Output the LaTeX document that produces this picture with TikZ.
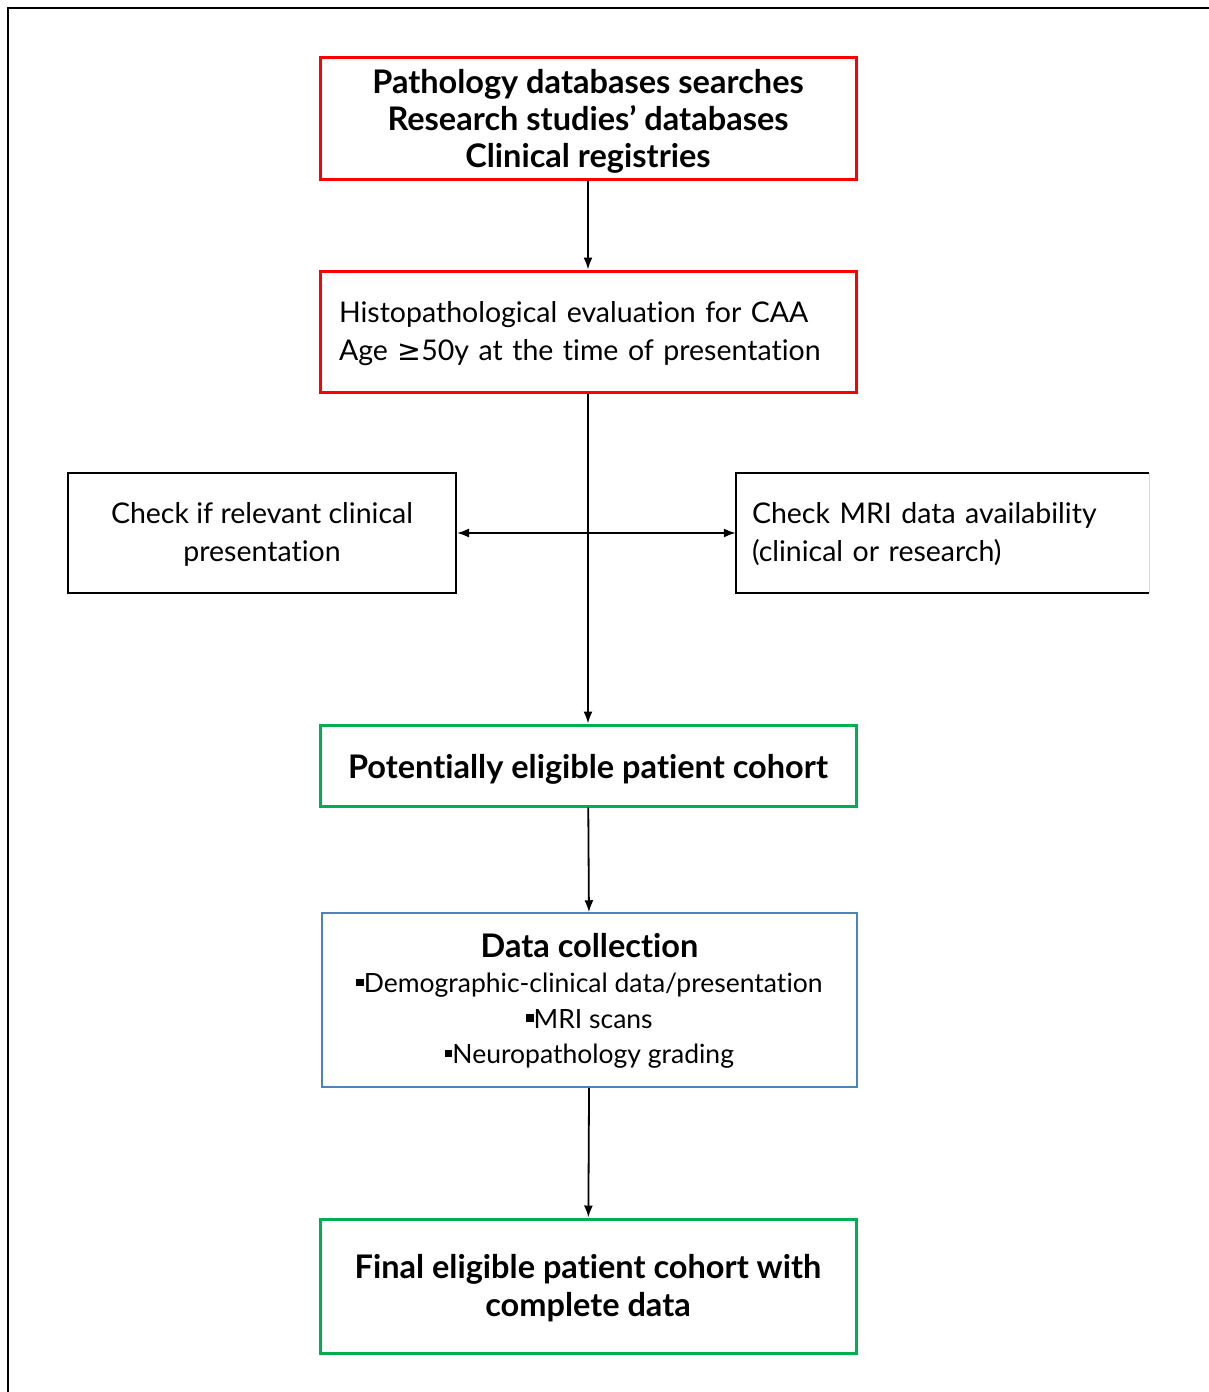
\documentclass[tikz,border=0pt]{standalone}
\usepackage{fontspec}
\setmainfont{Lato}[Ligatures={NoCommon}]
\newfontfamily\symfont{DejaVu Sans}
\usetikzlibrary{arrows.meta}
\definecolor{boxred}{RGB}{255,0,0}
\definecolor{boxgreen}{RGB}{0,176,80}
\definecolor{boxblue}{RGB}{79,129,189}
\newcommand{\sqb}{\raisebox{0.25em}{\rule{0.28em}{0.28em}}}
\newcommand{\bfs}{\fontsize{32.5}{37}\selectfont\bfseries}
\begin{document}
\begin{tikzpicture}[x=1pt,y=-1pt,
  every node/.style={font=\fontsize{28.5}{38}\selectfont, inner sep=0pt},
  box/.style={draw, rectangle, minimum width=#1},
  redbox/.style={box=536, draw=boxred, line width=3pt},
  greenbox/.style={box=536, draw=boxgreen, line width=3pt},
  blackbox/.style={box=388, draw=black, line width=2pt},
  bluebox/.style={box=535, draw=boxblue, line width=1.5pt},
  txt/.style={align=center},
  arr/.style={-{Latex[length=12pt,width=9pt]}, line width=1.8pt},
]
\useasboundingbox (0,0) rectangle (1209,1392);
\draw[line width=2.5pt] (8,1392) -- (8,8) -- (1209,8);

\node[redbox, minimum height=122] (b1) at (588,118) {};
\node[txt, font=\bfs] (b1t) at ([yshift=-3.5pt]b1.center)
  {Pathology databases searches\\Research studies’ databases\\Clinical registries};
\node[redbox, minimum height=121] (b2) at (588,331.5) {};
\node[text width=498, align=left] (b2t) at ([yshift=-2.5pt]b2.center)
  {Histopathological evaluation for CAA\\Age {\symfont ≥}50y at the time of presentation};
\node[blackbox, minimum height=120] (lb) at (262,533) {};
\node[txt] (lbt) at ([yshift=-1.5pt]lb.center)
  {Check if relevant clinical\\presentation};
\node[minimum width=413, minimum height=120] (rb) at (942.5,533) {};
\node[text width=381, align=left] (rbt) at ([yshift=-1.5pt]rb.center)
  {Check MRI data availability\\(clinical or research)};
\draw[line width=2pt] (rb.north east) -- (rb.north west) -- (rb.south west) -- (rb.south east);
\draw[line width=1pt, black!15] (rb.north east) -- (rb.south east);
\node[greenbox, minimum height=81] (g1) at (588,765.5) {};
\node[txt, font=\bfs] (g1t) at ([yshift=-4pt]g1.center)
  {Potentially eligible patient cohort};
\node[bluebox, minimum height=174] (dc) at (589.5,1000) {};
\node[txt, font=\fontsize{26.5}{35.7}\selectfont] (dct) at ([yshift=-1pt]dc.center)
  {{\bfs Data collection}\\[-0.5pt]
   \sqb Demographic-clinical data/presentation\\
   \sqb MRI scans\\
   \sqb Neuropathology grading};
\node[greenbox, minimum height=134] (g2) at (588,1286) {};
\node[txt, font=\fontsize{32.5}{38}\selectfont\bfseries] (g2t) at ([yshift=-2.5pt]g2.center)
  {Final eligible patient cohort with\\complete data};

\coordinate (mid) at (b2.south |- lb.east);
\draw[arr] (b1) -- (b2);
\draw[arr] (b2) -- (g1);
\draw[arr] (mid) -- (lb.east);
\draw[arr] (mid) -- (rb.west);
\draw[arr] (g1) -- (dc);
\draw[arr] (dc) -- (g2);
\end{tikzpicture}
\end{document}
